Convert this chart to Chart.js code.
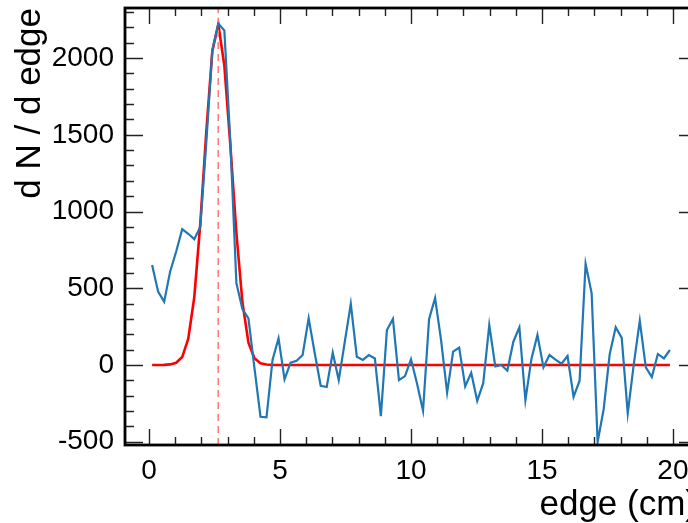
<!DOCTYPE html>
<html>
<head>
<meta charset="utf-8">
<title>d N / d edge</title>
<script src="https://cdn.jsdelivr.net/npm/chart.js@4.4.1/dist/chart.umd.min.js"></script>
<style>
  html, body { margin: 0; padding: 0; background: #fff; overflow: hidden; }
  #wrap { width: 688px; height: 523px; overflow: hidden; }
  canvas { display: block; }
</style>
</head>
<body>
<div id="wrap"><canvas id="chart" width="712" height="523"></canvas></div>
<script>
// histogram range (cm) – bins are evenly spread over it
const BIN_LOW = 0;
const BIN_HIGH = 20;

// measured dN/d edge per bin (blue)
const MEASURED = [
  652, 478, 413, 610, 740, 885, 855, 820, 900, 1450,
  2050, 2225, 2180, 1450, 533, 365, 304, -20, -337, -341,
  33, 174, -93, 15, 28, 65, 304, 80, -135, -143,
  80, -98, 150, 398, 54, 33, 65, 43, -333, 228,
  300, -98, -72, 37, -120, -298, 298, 437, 160, -180,
  87, 113, -139, -50, -234, -118, 261, -9, 0, -37,
  152, 245, -230, 40, 196, -15, 65, 35, 9, 59,
  -207, -102, 659, 469, -500, -288, 70, 246, 177, -315,
  5, 288, -15, -78, 72, 43, 98
];

// peak fit evaluated per bin (red)
const FIT = [
  0, 0, 1, 4, 15, 52, 170, 440, 920, 1520,
  2045, 2220, 1950, 1430, 860, 410, 145, 45, 12, 3,
  0, 0, 0, 0, 0, 0, 0, 0, 0, 0,
  0, 0, 0, 0, 0, 0, 0, 0, 0, 0,
  0, 0, 0, 0, 0, 0, 0, 0, 0, 0,
  0, 0, 0, 0, 0, 0, 0, 0, 0, 0,
  0, 0, 0, 0, 0, 0, 0, 0, 0, 0,
  0, 0, 0, 0, 0, 0, 0, 0, 0, 0,
  0, 0, 0, 0, 0, 0, 0
];

// fitted peak position (dashed marker)
const PEAK_X = 2.64;

const X_TICKS = [0, 5, 10, 15, 20];
const Y_TICKS = [-500, 0, 500, 1000, 1500, 2000];
const X_RANGE = [-0.92, 20.92];
const Y_RANGE = [-521, 2326];
const X_TITLE = "edge (cm)";
const Y_TITLE = "d N / d edge";

const FONT = '"Liberation Sans", Arial, Helvetica, sans-serif';

const binWidth = (BIN_HIGH - BIN_LOW) / MEASURED.length;
const binCenters = MEASURED.map((_, i) => BIN_LOW + (i + 0.5) * binWidth);
const toPoints = (vals) => vals.map((v, i) => ({ x: binCenters[i], y: v }));

/* ROOT-like frame: box, inward ticks on all four sides, labels, titles */
const rootFrame = {
  id: "rootFrame",
  afterDatasetsDraw(chart) {
    const { ctx, chartArea: a, scales } = chart;
    const xs = scales.x, ys = scales.y;
    ctx.save();

    ctx.strokeStyle = "#222";
    ctx.lineWidth = 1.4;
    ctx.beginPath();
    for (let v = Math.ceil(X_RANGE[0]); v <= X_RANGE[1]; v += 1) {
      const px = Math.round(xs.getPixelForValue(v)) + 0.5;
      const len = X_TICKS.includes(v) ? 16 : 8;
      ctx.moveTo(px, a.bottom); ctx.lineTo(px, a.bottom - len);
      ctx.moveTo(px, a.top); ctx.lineTo(px, a.top + len);
    }
    for (let v = Math.ceil(Y_RANGE[0] / 100) * 100; v <= Y_RANGE[1]; v += 100) {
      const py = Math.round(ys.getPixelForValue(v)) + 0.5;
      const len = Y_TICKS.includes(v) ? 18 : 9;
      ctx.moveTo(a.left, py); ctx.lineTo(a.left + len, py);
      ctx.moveTo(a.right, py); ctx.lineTo(a.right - len, py);
    }
    ctx.stroke();

    ctx.strokeStyle = "#000";
    ctx.lineWidth = 2.8;
    ctx.strokeRect(a.left, a.top, a.right - a.left, a.bottom - a.top);

    ctx.fillStyle = "#000";
    ctx.font = "28px " + FONT;
    ctx.textBaseline = "middle";
    ctx.textAlign = "center";
    X_TICKS.forEach((v) => ctx.fillText(String(v), xs.getPixelForValue(v), a.bottom + 26));
    ctx.textAlign = "right";
    Y_TICKS.forEach((v) => ctx.fillText(String(v), a.left - 11, ys.getPixelForValue(v)));

    ctx.font = "35px " + FONT;
    ctx.textBaseline = "alphabetic";
    ctx.textAlign = "right";
    ctx.fillText(X_TITLE, a.right, 515);
    ctx.translate(40, a.top);
    ctx.rotate(-Math.PI / 2);
    ctx.fillText(Y_TITLE, 0, 0);

    ctx.restore();
  }
};

new Chart(document.getElementById("chart").getContext("2d"), {
  type: "line",
  data: {
    datasets: [
      {
        label: "data",
        data: toPoints(MEASURED),
        borderColor: "#1f77b4",
        borderWidth: 2.2,
        pointRadius: 0,
        tension: 0
      },
      {
        label: "peak",
        data: [{ x: PEAK_X, y: Y_RANGE[0] }, { x: PEAK_X, y: Y_RANGE[1] }],
        borderColor: "#ff7f7f",
        borderWidth: 1.6,
        borderDash: [7, 5],
        pointRadius: 0
      },
      {
        label: "fit",
        data: toPoints(FIT),
        borderColor: "#ff0000",
        borderWidth: 2.6,
        pointRadius: 0,
        tension: 0
      }
    ]
  },
  options: {
    responsive: false,
    animation: false,
    devicePixelRatio: 1,
    layout: { padding: { left: 0, right: 15, top: 8, bottom: 0 } },
    plugins: { legend: { display: false }, tooltip: { enabled: false } },
    scales: {
      x: {
        type: "linear",
        min: X_RANGE[0],
        max: X_RANGE[1],
        grid: { display: false },
        border: { display: false },
        ticks: { display: false },
        afterFit: (s) => { s.height = 78; }
      },
      y: {
        type: "linear",
        min: Y_RANGE[0],
        max: Y_RANGE[1],
        grid: { display: false },
        border: { display: false },
        ticks: { display: false },
        afterFit: (s) => { s.width = 125; }
      }
    }
  },
  plugins: [rootFrame]
});
</script>
</body>
</html>
